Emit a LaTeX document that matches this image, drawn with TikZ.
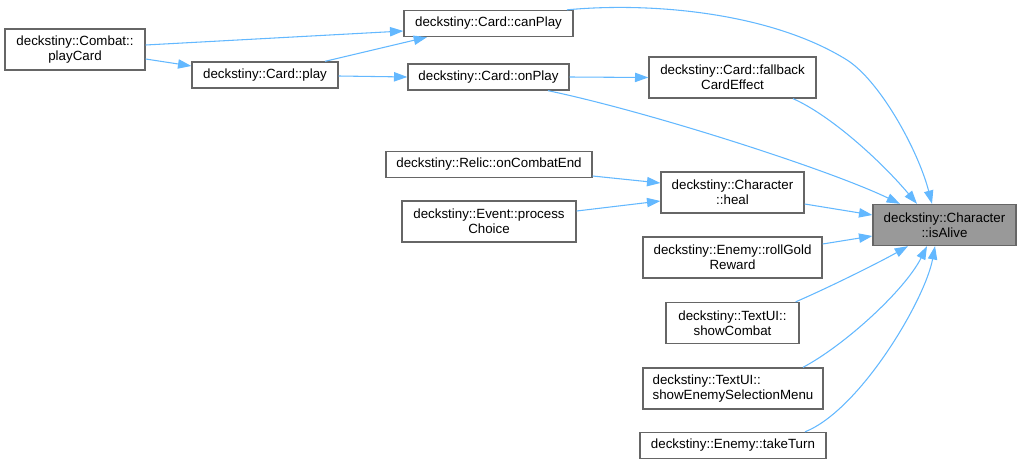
\documentclass[tikz,border=0pt]{standalone}
\usepackage{fontspec}
\setmainfont{Liberation Sans}
\usetikzlibrary{arrows.meta,calc}
\definecolor{edgeblue}{HTML}{63B8FF}
\definecolor{boxgray}{HTML}{666666}
\definecolor{hitgray}{HTML}{999999}

\begin{document}
\begin{tikzpicture}[x=0.75pt, y=-0.75pt, >={Triangle[length=10pt,width=7pt]},
    fn/.style={draw=boxgray, line width=1pt, fill=white, inner sep=0pt, align=center,
      font=\fontsize{10}{11.25}\selectfont, minimum height=19.5pt},
    fn2/.style={fn, minimum height=30.75pt},
    call/.style={->, edgeblue, line width=0.8pt}]
\useasboundingbox (0,0) rectangle (1021,464);
\node[fn2, minimum width=105pt] (playCard) at (75,49.5) {deckstiny::Combat::\\playCard};
\node[fn, minimum width=109.5pt] (play) at (265,75) {deckstiny::Card::play};
\node[fn, minimum width=126.75pt] (canPlay) at (488.5,23.5) {deckstiny::Card::canPlay};
\node[fn, minimum width=120.75pt] (onPlay) at (488.5,77) {deckstiny::Card::onPlay};
\node[fn2, minimum width=125.25pt] (fallback) at (732.5,77.5) {deckstiny::Card::fallback\\CardEffect};
\node[fn2, minimum width=107.25pt, fill=hitgray] (isAlive) at (944.5,225) {deckstiny::Character\\::isAlive};
\node[fn2, minimum width=107.25pt] (heal) at (732.5,192.5) {deckstiny::Character\\::heal};
\node[fn, minimum width=154.5pt] (onCombatEnd) at (489,164.5) {deckstiny::Relic::onCombatEnd};
\node[fn2, minimum width=130.5pt] (processChoice) at (489,221.5) {deckstiny::Event::process\\Choice};
\node[fn2, minimum width=134.25pt] (rollGold) at (732.5,257.5) {deckstiny::Enemy::rollGold\\Reward};
\node[fn2, minimum width=99.75pt] (showCombat) at (732.5,323) {deckstiny::TextUI::\\showCombat};
\node[fn2, minimum width=135pt, align=left] (showMenu) at (733,388.5) {deckstiny::TextUI::\\showEnemySelectionMenu};
\node[fn, minimum width=139.5pt] (takeTurn) at (733,445.5) {deckstiny::Enemy::takeTurn};

\draw[call] ($(playCard.east)+(0,-4.5)$) -- ($(canPlay.west)+(0,7.5)$);
\draw[call] ($(play.north)+(60,0)$) -- ($(canPlay.south)+(-61.5,0)$);
\draw[call] ($(playCard.east)+(0,9.5)$) -- ($(play.west)+(0,-9)$);
\draw[call] ($(play.east)+(0,1)$) -- (onPlay.west);
\draw[call] (onPlay.east) -- (fallback.west);
\draw[call] ($(canPlay.north)+(78.5,0)$) .. controls (650,2) and (770,12) .. (847,60)
  .. controls (880,81) and (918,150) .. ($(isAlive.north)+(-12.5,0)$);
\draw[call] ($(onPlay.south)+(59.5,0)$) .. controls (650,112) and (830,170) .. ($(isAlive.north)+(-44.5,0)$);
\draw[call] ($(fallback.south)+(60.5,0)$) .. controls (830,115) and (880,160) .. ($(isAlive.north)+(-27.5,0)$);
\draw[call] ($(onCombatEnd.east)+(0,11.5)$) -- ($(heal.west)+(0,-9.5)$);
\draw[call] ($(processChoice.east)+(0,-10.5)$) -- ($(heal.west)+(0,8.5)$);
\draw[call] ($(heal.east)+(0,11.5)$) -- ($(isAlive.west)+(0,-10)$);
\draw[call] ($(rollGold.east)+(0,-13.5)$) -- ($(isAlive.west)+(0,11)$);
\draw[call] ($(showCombat.north east)+(-4,0)$) .. controls (830,287) and (880,262) .. ($(isAlive.south)+(-36.5,0)$);
\draw[call] ($(showMenu.north)+(70,0)$) .. controls (845,345) and (905,290) .. ($(isAlive.south)+(-17.5,0)$);
\draw[call] ($(takeTurn.north)+(72,0)$) .. controls (860,410) and (925,300) .. ($(isAlive.south)+(-9.5,0)$);
\end{tikzpicture}
\end{document}
